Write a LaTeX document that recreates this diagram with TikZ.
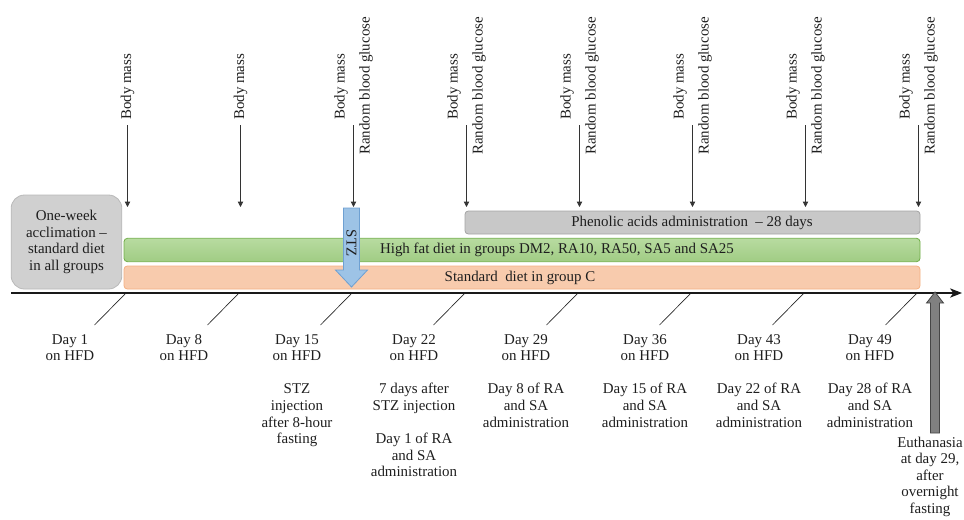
\documentclass[tikz,border=0pt]{standalone}
\usepackage{fontspec}
\setmainfont{Liberation Serif}
\usetikzlibrary{arrows.meta}
\definecolor{accfill}{RGB}{208,208,208}
\definecolor{accdraw}{RGB}{185,185,185}
\definecolor{phenfill}{RGB}{200,200,200}
\definecolor{phendraw}{RGB}{165,165,165}
\definecolor{greentop}{RGB}{184,219,160}
\definecolor{greenbot}{RGB}{160,204,132}
\definecolor{greendraw}{RGB}{112,173,71}
\definecolor{orfill}{RGB}{248,203,173}
\definecolor{ordraw}{RGB}{244,177,131}
\definecolor{stzfill}{RGB}{157,195,230}
\definecolor{stzdraw}{RGB}{110,160,210}
\definecolor{eutfill}{RGB}{128,128,128}
\definecolor{eutdraw}{RGB}{70,70,70}
\definecolor{txt}{RGB}{30,30,30}
\newcommand{\fsz}{\fontsize{11.2pt}{12.45pt}\selectfont}
\tikzset{
  lbl/.style={font=\fsz, text=txt, inner sep=0pt},
  rotlbl/.style={lbl, rotate=90, anchor=west},
  daylbl/.style={lbl, align=center, anchor=north},
  varrow/.style={draw=black!80, line width=0.6pt, -{Triangle[length=4pt,width=4pt]}},
  tickline/.style={draw=black!85, line width=0.5pt},
  axisline/.style={draw=black!90, line width=0.8pt, -{Stealth[length=9pt,width=7pt,inset=2.5pt]}},
  barbox/.style={lbl, rounded corners=2.5pt, line width=0.6pt, minimum width=597pt, minimum height=17.5pt},
}
\begin{document}
\begin{tikzpicture}[x=0.75pt,y=-0.75pt]
\useasboundingbox (0,0) rectangle (964,519);

% top measurement arrows
\foreach \i/\x in {1/127.5,2/240.5,3/353.5,4/466.5,5/579.5,6/692.5,7/805.5,8/918.5}{
  \coordinate (va\i) at (\x,125);
  \coordinate (vb\i) at (\x,207);
  \draw[varrow] (va\i) -- (vb\i);
  \coordinate (ta\i) at (\x-1.5,293);
  \coordinate (tb\i) at (\x-33,325);
  \draw[tickline] (ta\i) -- (tb\i);
}
\foreach \i/\x in {1/127.5,2/240.5}{
  \node[rotlbl] (bm\i) at (\x,120) {Body mass};
}
\foreach \i/\x in {3/353.5,4/466.5,5/579.5,6/692.5,7/805.5,8/918.5}{
  \node[rotlbl] (bm\i) at (\x-12.5,120) {Body mass};
  \node[rotlbl] (rbg\i) at (\x+12.5,155) {Random blood glucose};
}

% acclimation box
\node[lbl, fill=accfill, draw=accdraw, line width=0.6pt, rounded corners=10pt,
      minimum width=83pt, minimum height=70.5pt, align=center] (acc) at (66.5,242)
  {One-week\\acclimation --\\standard diet\\in all groups};

% bars
\node[barbox, fill=phenfill, draw=phendraw, minimum width=341.25pt, minimum height=17.25pt] (phen) at (692.5,222.5) {};
\node[lbl] (phent) at (692,222.5) {Phenolic acids administration \ -- 28 days};
\node[barbox, top color=greentop, bottom color=greenbot, draw=greendraw] (hfd) at (522,250) {};
\node[lbl] (hfdt) at (557,250) {High fat diet in groups DM2, RA10, RA50, SA5 and SA25};
\node[barbox, fill=orfill, draw=ordraw, minimum height=17.25pt] (std) at (522,277.5) {};
\node[lbl] (stdt) at (520,277.5) {Standard \ diet in group C};

% STZ arrow
\draw[fill=stzfill, draw=stzdraw, line width=0.6pt]
  (343.5,208) -- (359.5,208) -- (359.5,270) -- (367.5,270) -- (351.5,287) -- (335.5,270) -- (343.5,270) -- cycle;
\node[lbl, rotate=-90] (stz) at (351.5,243) {STZ};

% axis
\coordinate (ax0) at (11,293);
\coordinate (ax1) at (962,293);
\draw[axisline] (ax0) -- (ax1);

% euthanasia arrow
\draw[fill=eutfill, draw=eutdraw, line width=0.6pt]
  (930.5,433) -- (939.5,433) -- (939.5,303) -- (943.5,303) -- (935,292) -- (926.5,303) -- (930.5,303) -- cycle;

% day labels
\node[daylbl] (d1) at (70,334) {Day 1\\on HFD};
\node[daylbl] (d8) at (184,334) {Day 8\\on HFD};
\node[daylbl] (d15) at (297,334) {Day 15\\on HFD\\[12.45pt]STZ\\injection\\after 8-hour\\fasting};
\node[daylbl] (d22) at (414,334) {Day 22\\on HFD\\[12.45pt]7 days after\\STZ injection\\[12.45pt]Day 1 of RA\\and SA\\administration};
\node[daylbl] (d29) at (526,334) {Day 29\\on HFD\\[12.45pt]Day 8 of RA\\and SA\\administration};
\node[daylbl] (d36) at (645,334) {Day 36\\on HFD\\[12.45pt]Day 15 of RA\\and SA\\administration};
\node[daylbl] (d43) at (759,334) {Day 43\\on HFD\\[12.45pt]Day 22 of RA\\and SA\\administration};
\node[daylbl] (d49) at (870,334) {Day 49\\on HFD\\[12.45pt]Day 28 of RA\\and SA\\administration};
\node[daylbl] (eut) at (930,436.5) {Euthanasia\\at day 29,\\after\\overnight\\fasting};
\end{tikzpicture}
\end{document}
